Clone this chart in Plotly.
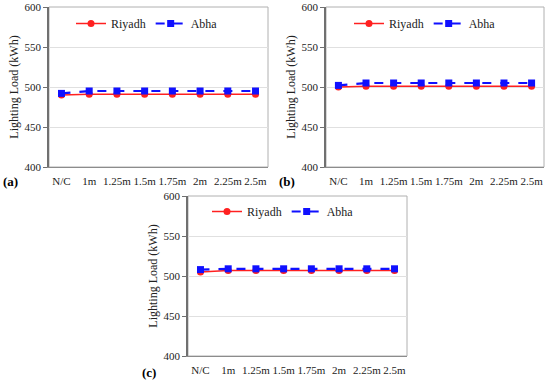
import plotly.graph_objects as go

categories = ["N/C", "1m", "1.25m", "1.5m", "1.75m", "2m", "2.25m", "2.5m"]
riyadh_a = [490, 491, 491, 491, 491, 491, 491, 491]
abha_a = [492, 495, 495, 495, 495, 495, 495, 495]
riyadh_b = [500, 501, 501, 501, 501, 501, 501, 501]
abha_b = [502, 505, 505, 505, 505, 505, 505, 505]
riyadh_c = [505, 507, 507, 507, 507, 507, 507, 507]
abha_c = [508, 509, 509, 509, 509, 509, 509, 509]
y_ticks = [400, 450, 500, 550, 600]
panel_labels = ["(a)", "(b)", "(c)"]

FONT = "'Liberation Serif', 'DejaVu Serif', serif"
W, H = 550, 383

panels = [
    # (riyadh, abha, x0px, x1px, ytop, ybot, legend x px, legend y px, label x, label y)
    (riyadh_a, abha_a, 49, 268, 7, 167, 71, 9, 1, 182),
    (riyadh_b, abha_b, 326, 544, 7, 167, 349, 9, 277, 182),
    (riyadh_c, abha_c, 188, 407, 196, 356, 207, 197, 140, 372),
]

fig = go.Figure()
layout = dict(
    width=W, height=H, margin=dict(l=0, r=0, t=0, b=0),
    paper_bgcolor="white", plot_bgcolor="white",
    font=dict(family=FONT, size=11, color="#222222"),
    showlegend=True,
)
shapes = []
annotations = []
for i, (ry, ab, x0, x1, yt, yb, lx, ly, px, py) in enumerate(panels):
    n = "" if i == 0 else str(i + 1)
    xa, ya = "x" + n, "y" + n
    leg = "legend" + n
    fig.add_trace(go.Scatter(
        x=categories, y=ry, name="Riyadh", mode="lines+markers",
        line=dict(color="#ff2020", width=1.5),
        marker=dict(symbol="circle", size=7, color="#ff2020"),
        xaxis=xa, yaxis=ya, legend=leg))
    fig.add_trace(go.Scatter(
        x=categories, y=ab, name="Abha", mode="lines+markers",
        line=dict(color="#1010ff", width=2.2, dash="dash"),
        marker=dict(symbol="square", size=7, color="#1010ff"),
        xaxis=xa, yaxis=ya, legend=leg))
    layout["xaxis" + n] = dict(
        domain=[x0 / W, x1 / W], anchor=ya, range=[-0.45, 7.45],
        showgrid=False, showline=True, linecolor="#8c8c8c", linewidth=1,
        ticks="", tickangle=0, ticklabelstandoff=4, automargin=False,
        tickfont=dict(family=FONT, size=11, color="#222222"),
        fixedrange=True)
    layout["yaxis" + n] = dict(
        domain=[1 - yb / H, 1 - yt / H], anchor=xa, range=[400, 600],
        tickvals=y_ticks, showgrid=True, gridcolor="#e0e0e0", gridwidth=1,
        showline=True, linecolor="#707070", linewidth=1.5,
        ticks="outside", ticklen=4, tickcolor="#707070", automargin=False,
        tickfont=dict(family=FONT, size=11, color="#222222"),
        title=dict(text="Lighting Load (kWh)", font=dict(family=FONT, size=12, color="#222222"), standoff=3),
        zeroline=False, fixedrange=True)
    layout[leg] = dict(
        orientation="h", x=lx / W, y=1 - ly / H, xanchor="left", yanchor="top",
        bgcolor="rgba(0,0,0,0)", font=dict(family=FONT, size=12, color="#222222"),
        itemwidth=30, tracegroupgap=0)
    shapes.append(dict(type="rect", xref=xa + " domain", yref=ya + " domain",
                       x0=0, x1=1, y0=0, y1=1, line=dict(color="#b0b0b0", width=1),
                       layer="below"))
    annotations.append(dict(text="<b>" + panel_labels[i] + "</b>", xref="paper", yref="paper",
                            x=px / W, y=1 - py / H, xanchor="left", yanchor="middle",
                            showarrow=False, font=dict(family=FONT, size=13, color="black")))
layout["shapes"] = shapes
layout["annotations"] = annotations
fig.update_layout(**layout)
fig.write_html("out.html", config={"displayModeBar": False},
               post_script="document.body.style.margin='0';document.body.style.overflow='hidden';")
